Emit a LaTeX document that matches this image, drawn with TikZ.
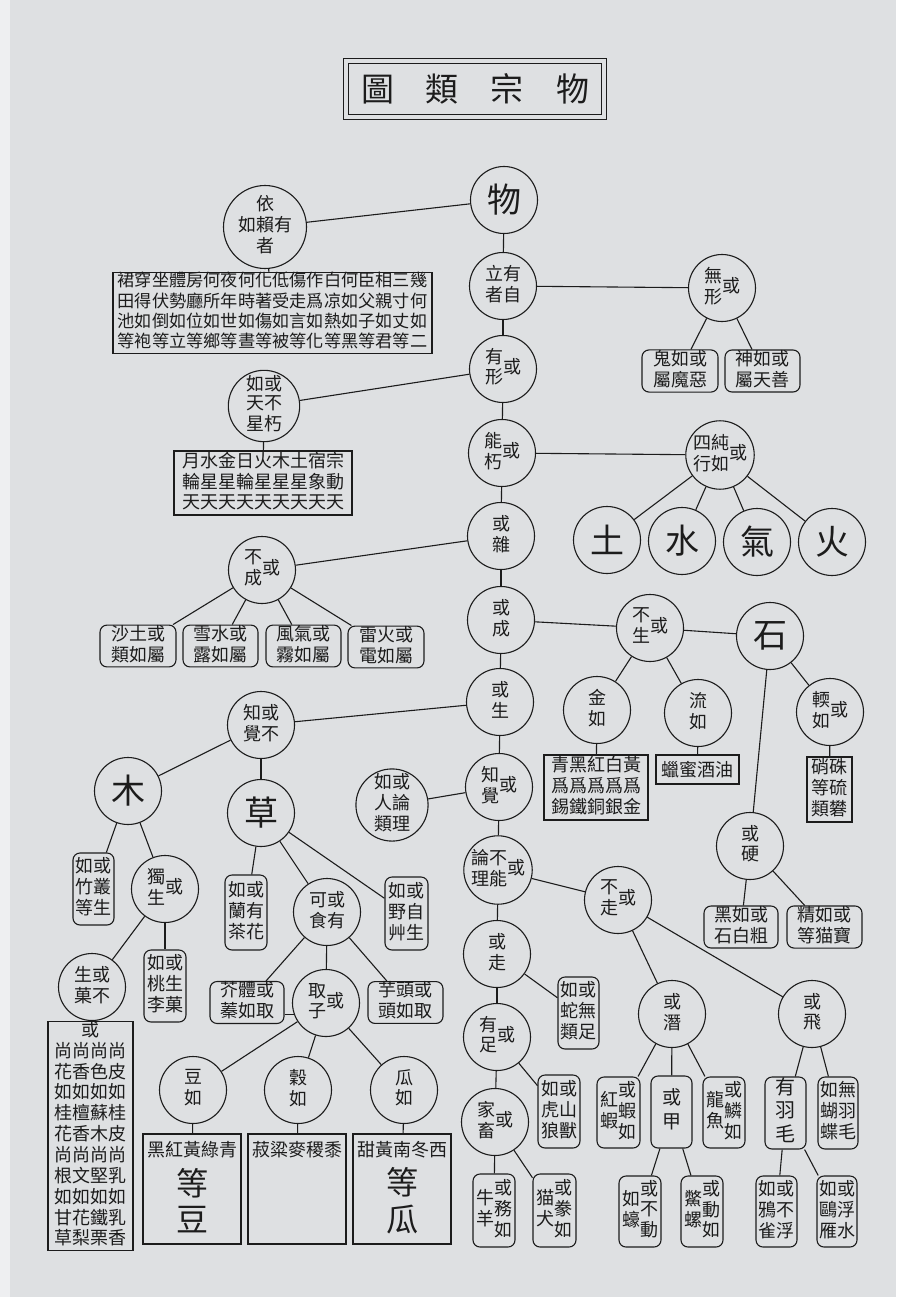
\documentclass[tikz,border=0pt]{standalone}
\usepackage{fontspec}
\newfontfamily\cjk{Noto Sans CJK TC}
\newcommand{\Cl}[1]{\begin{tabular}{@{}c@{}}#1\end{tabular}}
\definecolor{paper}{RGB}{222,224,226}
\definecolor{paperlight}{RGB}{238,239,241}
\definecolor{ink}{RGB}{28,28,28}
\begin{document}
\begin{tikzpicture}[x=1pt,y=-1pt,
  every node/.style={font=\cjk\fontsize{18}{19.5}\selectfont, text=ink, inner sep=0pt},
  circ/.style={circle, draw=ink, line width=1.1pt, minimum size=67pt},
  bigc/.style={circ, font=\cjk\fontsize{34}{38}\selectfont},
  rbox/.style={draw=ink, rectangle, line width=1.1pt},
  sbox/.style={rbox, rounded corners=7pt},
  wh/.style 2 args={minimum width=#1pt, minimum height=#2pt},
  conn/.style={draw=ink, line width=1.1pt}]
\useasboundingbox (0,0) rectangle (896,1297);
\fill[paper] (0,0) rectangle (896,1297);
\fill[paperlight] (0,0) rectangle (10,1297);

% title
\node[draw=ink, double=paper, double distance=4.5pt, line width=1pt, wh={258}{56},
  font=\cjk\fontsize{33}{36}\selectfont] (title) at (475,89) {圖\hspace{32pt}類\hspace{32pt}宗\hspace{32pt}物};

% top
\node[bigc] (wu) at (504,200) {物};
\node[circ] (yi) at (265,227) {\Cl{依\\如賴有\\者}};
\node[rbox, wh={319}{80}, font=\cjk\fontsize{17.2}{19}\selectfont] (yibox) at (272.5,313) {\Cl{裙穿坐體房何夜何化低傷作白何臣相三幾\\田得伏勢廳所年時著受走爲凉如父親寸何\\池如倒如位如世如傷如言如熱如子如丈如\\等袍等立等鄉等晝等被等化等黑等君等二}};
\node[circ] (liyou) at (503,286) {\Cl{立有\\者自}};
\node[circ] (wuxing) at (722,288) {\Cl{無\\形}\Cl{或}};
\node[sbox, wh={76}{42}] (gui) at (680,371) {\Cl{鬼如或\\屬魔惡}};
\node[sbox, wh={75}{42}] (shen) at (762.5,371) {\Cl{神如或\\屬天善}};
\node[circ] (youxing) at (503,369) {\Cl{有\\形}\Cl{或}};
\node[circ] (tianxing) at (264,406) {\Cl{如或\\天不\\星朽}};
\node[rbox, wh={178}{64}, font=\cjk\fontsize{18}{19.5}\selectfont] (tianbox) at (263,483) {\Cl{月水金日火木土宿宗\\輪星星輪星星星象動\\天天天天天天天天天}};
\node[circ] (nengxiu) at (502,453) {\Cl{能\\朽}\Cl{或}};
\node[circ] (sichun) at (720,455) {\Cl{四純\\行如}\Cl{或}};
\node[bigc] (tu) at (607,540) {土};
\node[bigc] (shui) at (682,541) {水};
\node[bigc] (qi) at (757,542) {氣};
\node[bigc] (huo) at (832,542) {火};
\node[circ] (zaz) at (501,536) {\Cl{或\\雜}};
\node[circ] (bucheng) at (262,570) {\Cl{不\\成}\Cl{或}};
\node[sbox, wh={76}{40}] (sca) at (138,646) {\Cl{沙土或\\類如屬}};
\node[sbox, wh={75}{40}] (scb) at (220.5,646) {\Cl{雪水或\\露如屬}};
\node[sbox, wh={75}{40}] (scc) at (303.5,646) {\Cl{風氣或\\霧如屬}};
\node[sbox, wh={76}{40}] (scd) at (386,647) {\Cl{雷火或\\電如屬}};
\node[circ] (huocheng) at (501,620) {\Cl{或\\成}};
\node[circ] (busheng) at (650,628) {\Cl{不\\生}\Cl{或}};
\node[bigc] (shi) at (770,636) {石};
\node[circ] (jinru) at (597,710) {\Cl{金\\如}};
\node[circ] (liuru) at (698,713) {\Cl{流\\如}};
\node[circ] (ruanru) at (830,712) {\Cl{輭\\如}\Cl{或}};
\node[rbox, wh={104}{65}] (jinbox) at (596,787.5) {\Cl{青黑紅白黃\\爲爲爲爲爲\\錫鐵銅銀金}};
\node[rbox, wh={83}{29}] (liubox) at (697.5,769.5) {蠟蜜酒油};
\node[rbox, wh={45}{65}] (ruanbox) at (829.5,789.5) {\Cl{硝硃\\等硫\\類礬}};
\node[circ] (huoying) at (750,846) {\Cl{或\\硬}};
\node[sbox, wh={74}{40}] (hei) at (741,927) {\Cl{黑如或\\石白粗}};
\node[sbox, wh={75}{40}] (jing) at (824.5,927) {\Cl{精如或\\等猫寶}};

% left middle
\node[circ] (huosheng) at (500,702) {\Cl{或\\生}};
\node[circ] (zhijuebu) at (261,725) {\Cl{知或\\覺不}};
\node[circ] (zhijue) at (499,787) {\Cl{知\\覺}\Cl{或}};
\node[circ] (renlun) at (392,805) {\Cl{如或\\人論\\類理}};
\node[bigc] (mu) at (128,791) {木};
\node[bigc] (cao) at (261,813) {草};
\node[sbox, wh={41}{72}] (zhu) at (93.5,889) {\Cl{如或\\竹叢\\等生}};
\node[circ] (dusheng) at (165,889) {\Cl{獨\\生}\Cl{或}};
\node[sbox, wh={42}{75}] (lan) at (246,912.5) {\Cl{如或\\蘭有\\茶花}};
\node[circ] (keshi) at (327,912) {\Cl{可或\\食有}};
\node[sbox, wh={43}{73}] (ye) at (406.5,913.5) {\Cl{如或\\野自\\艸生}};
\node[circ] (shengguo) at (92,987) {\Cl{生或\\菓不}};
\node[sbox, wh={42}{72}] (tao) at (165,986) {\Cl{如或\\桃生\\李菓}};
\node[rbox, wh={85}{214}, font=\cjk\fontsize{18}{19}\selectfont] (bigbox) at (90.5,1136) {\Cl{或\\尚尚尚尚\\花香色皮\\如如如如\\桂檀蘇桂\\花香木皮\\尚尚尚尚\\根文堅乳\\如如如如\\甘花鐵乳\\草梨栗香}};
\node[sbox, wh={74}{39}] (jie) at (247,1002.5) {\Cl{芥體或\\蓁如取}};
\node[circ] (quzi) at (326,1003) {\Cl{取\\子}\Cl{或}};
\node[sbox, wh={75}{39}] (yu) at (405.5,1002.5) {\Cl{芋頭或\\頭如取}};
\node[circ] (douru) at (193,1090) {\Cl{豆\\如}};
\node[circ] (guru) at (298,1090) {\Cl{穀\\如}};
\node[circ] (guaru) at (404,1090) {\Cl{瓜\\如}};
\node[rbox, wh={98}{110}] (doubox) at (192,1189) {};
\node[rbox, wh={98}{110}] (gubox) at (297,1189) {};
\node[rbox, wh={98}{110}] (guabox) at (402,1189) {};
\node[font=\cjk\fontsize{18}{19}\selectfont] (doutxt) at (192,1150) {黑紅黃綠青};
\node[font=\cjk\fontsize{18}{19}\selectfont] (gutxt) at (297,1150) {菽粱麥稷黍};
\node[font=\cjk\fontsize{18}{19}\selectfont] (guatxt) at (402,1150) {甜黃南冬西};
\node[font=\cjk\fontsize{32}{36}\selectfont] (doubig) at (192,1205) {\Cl{等\\豆}};
\node[font=\cjk\fontsize{32}{36}\selectfont] (guabig) at (402,1205) {\Cl{等\\瓜}};

% right lower
\node[circ] (lunbu) at (498,870) {\Cl{論不\\理能}\Cl{或}};
\node[circ] (huozou) at (497,954) {\Cl{或\\走}};
\node[circ] (buzou) at (618,900) {\Cl{不\\走}\Cl{或}};
\node[sbox, wh={41}{72}] (she) at (578.5,1013) {\Cl{如或\\蛇無\\類足}};
\node[circ] (youzu) at (497,1037) {\Cl{有\\足}\Cl{或}};
\node[sbox, wh={42}{73}] (hu) at (559,1111.5) {\Cl{如或\\虎山\\狼獸}};
\node[circ] (jiachu) at (495,1122) {\Cl{家\\畜}\Cl{或}};
\node[sbox, wh={42}{73}] (niu) at (494,1210.5) {\Cl{牛\\羊}\Cl{或\\務\\如}};
\node[sbox, wh={43}{73}] (mao) at (554.5,1210.5) {\Cl{猫\\犬}\Cl{或\\豢\\如}};
\node[circ] (huoqian) at (672,1014) {\Cl{或\\潛}};
\node[circ] (huofei) at (812,1014) {\Cl{或\\飛}};
\node[sbox, wh={43}{71}] (xia) at (618.5,1112.5) {\Cl{紅\\蝦}\Cl{或\\蝦\\如}};
\node[sbox, wh={41}{72}, font=\cjk\fontsize{19}{24}\selectfont] (jia) at (671.5,1112) {\Cl{或\\甲}};
\node[sbox, wh={42}{71}] (long) at (724,1112.5) {\Cl{龍\\魚}\Cl{或\\鱗\\如}};
\node[sbox, wh={42}{71}] (hao) at (640,1211.5) {\Cl{如\\蠔}\Cl{或\\不\\動}};
\node[sbox, wh={42}{71}] (bie) at (702,1211.5) {\Cl{鱉\\螺}\Cl{或\\動\\如}};
\node[sbox, wh={41}{72}, font=\cjk\fontsize{20}{23}\selectfont] (yumao) at (785.5,1113) {\Cl{有\\羽\\毛}};
\node[sbox, wh={40}{72}] (wuyu) at (838,1113) {\Cl{如無\\蝴羽\\蝶毛}};
\node[sbox, wh={41}{71}] (ya) at (776.5,1211.5) {\Cl{如或\\鴉不\\雀浮}};
\node[sbox, wh={40}{71}] (ou) at (837,1211.5) {\Cl{如或\\鷗浮\\雁水}};

% connectors
\foreach \a/\b in {wu/yi, wu/liyou, yi/yibox, liyou/wuxing, wuxing/gui, wuxing/shen,
  liyou/youxing, youxing/tianxing, tianxing/tianbox, youxing/nengxiu, nengxiu/sichun,
  sichun/tu, sichun/shui, sichun/qi, sichun/huo, nengxiu/zaz, zaz/bucheng,
  bucheng/sca, bucheng/scb, bucheng/scc, bucheng/scd, zaz/huocheng, huocheng/busheng,
  busheng/shi, busheng/jinru, busheng/liuru, jinru/jinbox, liuru/liubox, shi/ruanru,
  ruanru/ruanbox, shi/huoying, huoying/hei, huoying/jing, huocheng/huosheng,
  huosheng/zhijuebu, zhijuebu/mu, zhijuebu/cao, mu/zhu, mu/dusheng, dusheng/shengguo,
  dusheng/tao, shengguo/bigbox, cao/lan, cao/keshi, cao/ye, keshi/jie, keshi/quzi,
  keshi/yu, quzi/douru, quzi/guru, quzi/guaru, douru/doubox, guru/gubox, guaru/guabox,
  huosheng/zhijue, zhijue/renlun, zhijue/lunbu, lunbu/huozou, lunbu/buzou,
  huozou/she, huozou/youzu, youzu/hu, youzu/jiachu, jiachu/niu, jiachu/mao,
  buzou/huoqian, buzou/huofei, huoqian/xia, huoqian/jia, huoqian/long, jia/hao,
  jia/bie, huofei/yumao, huofei/wuyu, yumao/ya, yumao/ou}
  \draw[conn] (\a) -- (\b);
\draw[conn] (jie.east |- quzi.200) -- (quzi.200);
\end{tikzpicture}
\end{document}
